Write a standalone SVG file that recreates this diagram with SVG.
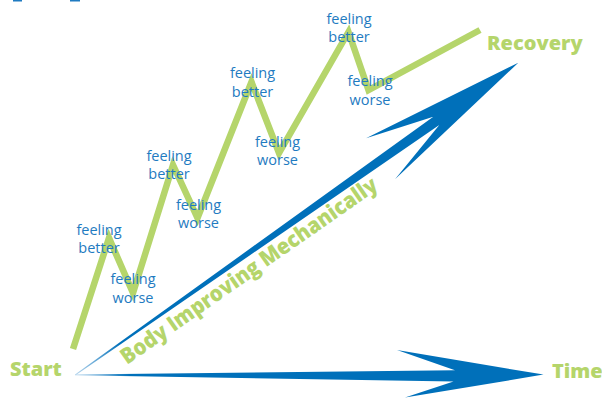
<svg xmlns="http://www.w3.org/2000/svg" width="602" height="398" viewBox="0 0 602 398">
  <style>
    .lbl { font-family: "Open Sans", "Noto Sans", sans-serif; font-size: 14.5px; fill: #1f7bc1; text-anchor: middle; }
    .big { font-family: "Open Sans", "Noto Sans", sans-serif; font-size: 20px; font-weight: 800; fill: #b5d56b; }
    .zig { fill: none; stroke: #b5d56b; stroke-width: 6.5; stroke-linejoin: miter; stroke-linecap: butt; }
  </style>
  <defs>
    <linearGradient id="gH" gradientUnits="userSpaceOnUse" x1="75" y1="375" x2="130" y2="375">
      <stop offset="0" stop-color="#b9d7ee"/>
      <stop offset="1" stop-color="#0070ba"/>
    </linearGradient>
    <linearGradient id="gD" gradientUnits="userSpaceOnUse" x1="75" y1="375" x2="120" y2="343">
      <stop offset="0" stop-color="#b9d7ee"/>
      <stop offset="1" stop-color="#0070ba"/>
    </linearGradient>
  </defs>
  <rect width="602" height="398" fill="#ffffff"/>
  <g id="top-fragments" fill="#1f7bc1">
    <rect x="13" y="0" width="9" height="1.5"/>
    <rect x="70" y="0" width="10" height="1.5"/>
  </g>
  <g id="connectors">
    <polygon id="arrow-time" fill="url(#gH)" points="75,374.4 455,370.3 397,350 543.5,374.6 405,397.5 453.5,381.5 75,375.2"/>
    <polygon id="arrow-body" fill="url(#gD)" points="75,374.6 433.3,116.7 366,138.3 518.3,62.7 395,179.3 439.3,125 75.6,375.2"/>
    <polyline id="recovery-path" class="zig" points="73,349 109,238 133,293 173,165 197.5,218 251.5,82 279,153 348.5,32 368.5,90 480,30"/>
  </g>
  <g id="start"><text class="big" x="10" y="376">Start</text></g>
  <g id="recovery"><text class="big" x="487" y="49.5">Recovery</text></g>
  <g id="time"><text class="big" x="552" y="377.5">Time</text></g>
  <g id="body-improving"><text class="big" x="127" y="365" transform="rotate(-35 127 365)" style="font-size:22px" textLength="308" lengthAdjust="spacingAndGlyphs">Body Improving Mechanically</text></g>
  <g id="better-1"><text class="lbl" x="99" y="235">feeling</text><text class="lbl" x="99" y="253">better</text></g>
  <g id="worse-1"><text class="lbl" x="133" y="284">feeling</text><text class="lbl" x="133" y="302.5">worse</text></g>
  <g id="better-2"><text class="lbl" x="169" y="160.5">feeling</text><text class="lbl" x="169" y="179">better</text></g>
  <g id="worse-2"><text class="lbl" x="198.5" y="209.5">feeling</text><text class="lbl" x="198.5" y="228">worse</text></g>
  <g id="better-3"><text class="lbl" x="252.5" y="77.5">feeling</text><text class="lbl" x="252.5" y="96.5">better</text></g>
  <g id="worse-3"><text class="lbl" x="277.5" y="146.5">feeling</text><text class="lbl" x="277.5" y="165">worse</text></g>
  <g id="better-4"><text class="lbl" x="349" y="23.5">feeling</text><text class="lbl" x="349" y="42">better</text></g>
  <g id="worse-4"><text class="lbl" x="370" y="86">feeling</text><text class="lbl" x="370" y="104.5">worse</text></g>
</svg>
